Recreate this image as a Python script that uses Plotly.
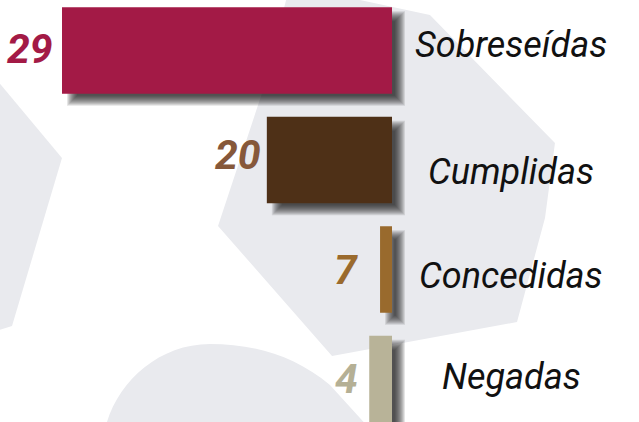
import plotly.graph_objects as go

# ---- data ----
categories = ["Sobreseídas", "Cumplidas", "Concedidas", "Negadas"]
counts = [29, 20, 7, 4]
# bar length as drawn in the infographic (same units as the first bar's count)
drawn_length = [29, 11.0, 1.05, 2.0]
bar_colors = ["#A31A46", "#4E3017", "#996A2D", "#B8B398"]
num_colors = ["#A31A46", "#86583A", "#9A6A2D", "#B5B095"]

W, H = 639, 422
# axis scales
px_per_x = 330 / 29.0
x_end_px = 392
xmin = -x_end_px / px_per_x
xmax = (W - x_end_px) / px_per_x
px_per_y = (379 - 50.5) / 3.0
ytop = -50.5 / px_per_y
ybot = 3 + (H - 379) / px_per_y
bar_w = 0.79

ypos = list(range(len(categories)))

fig = go.Figure()
fig.add_trace(go.Bar(
    y=ypos, x=[-v for v in drawn_length], orientation="h",
    marker=dict(color=bar_colors, line=dict(width=0)),
    width=bar_w, hoverinfo="skip", showlegend=False,
))

shapes = []
BG = "#E9EAEE"


def P(pts):
    return "M " + " L ".join(f"{x / W:.4f},{1 - y / H:.4f}" for x, y in pts) + " Z"


# background hexagons
shapes.append(dict(type="path", xref="paper", yref="paper", layer="below",
                   path=P([(-70, 0), (62, 158), (12, 326), (-100, 360)]),
                   fillcolor=BG, line=dict(width=0)))
shapes.append(dict(type="path", xref="paper", yref="paper", layer="below",
                   path=P([(290, -15), (430, 15), (555, 143), (545, 218), (517, 322),
                           (332, 356), (218, 226), (262, 93)]),
                   fillcolor=BG, line=dict(width=0)))


def pp(x, y):
    return f"{x / W:.4f},{1 - y / H:.4f}"


circ = ("M " + pp(95, 440) + " L " + pp(107, 422) +
        " C " + pp(120, 380) + " " + pp(160, 344) + " " + pp(210, 344) +
        " C " + pp(255, 344) + " " + pp(295, 356) + " " + pp(330, 385) +
        " L " + pp(380, 440) + " Z")
shapes.append(dict(type="path", xref="paper", yref="paper", layer="below",
                   path=circ, fillcolor=BG, line=dict(width=0)))

# drop shadows (stacked translucent rectangles, soft blur)
dx_px, dy_px = 9, 8
spreads = [-6 + k for k in range(11)]
for i, L in enumerate(drawn_length):
    x0, x1 = -L, 0
    y0, y1 = ypos[i] - bar_w / 2, ypos[i] + bar_w / 2
    for e in spreads:
        shapes.append(dict(
            type="rect", xref="x", yref="y", layer="below",
            x0=x0 + (dx_px - e) / px_per_x, x1=x1 + (dx_px + e) / px_per_x,
            y0=y0 + (dy_px - e) / px_per_y, y1=y1 + (dy_px + e) / px_per_y,
            fillcolor="#101010", opacity=0.11, line=dict(width=0)))

annotations = []
num_gap = [7, 4, 20, 9]
num_dy = [2, 5, 0, 0]
for i, c in enumerate(counts):
    annotations.append(dict(
        x=-drawn_length[i], y=ypos[i], xref="x", yref="y",
        text=f"<b><i>{c}</i></b>", showarrow=False, xanchor="right", yanchor="middle",
        xshift=-num_gap[i], yshift=num_dy[i],
        font=dict(family="Roboto", size=41, color=num_colors[i])))

label_dy = [6, -12, -6, 2]
for i, name in enumerate(categories):
    annotations.append(dict(
        x=511 / W, y=ypos[i], xref="paper", yref="y",
        text=f"<i>{name}</i>", showarrow=False, xanchor="center", yanchor="middle",
        yshift=label_dy[i],
        font=dict(family="Roboto", size=36, color="#111111")))

fig.update_layout(
    width=W, height=H,
    margin=dict(l=0, r=0, t=0, b=0),
    paper_bgcolor="white", plot_bgcolor="rgba(0,0,0,0)",
    xaxis=dict(range=[xmin, xmax], visible=False, fixedrange=True),
    yaxis=dict(range=[ybot, ytop], visible=False, fixedrange=True),
    shapes=shapes, annotations=annotations,
    showlegend=False,
)

fig.write_html("out.html", config={"displayModeBar": False},
               post_script="document.body.style.margin='0';document.body.style.padding='0';")
